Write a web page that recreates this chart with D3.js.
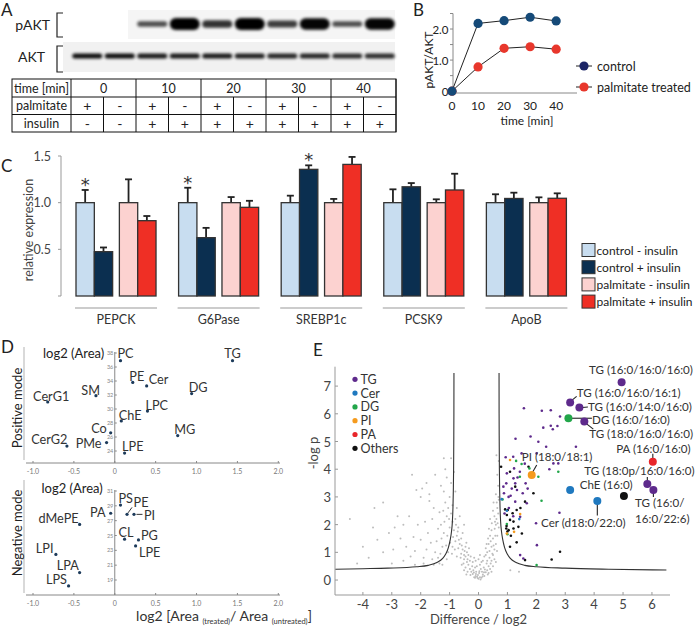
<!DOCTYPE html>
<html><head><meta charset="utf-8">
<script src="https://cdn.jsdelivr.net/npm/d3@7"></script>
<style>
body{margin:0;background:#fff}
svg{display:block}
text{font-family:Lato,"Open Sans",sans-serif;fill:#222}
</style>
</head><body>
<svg id="fig" width="696" height="626"></svg>
<script>
// ================= DATA =================
// Panel A (western blot + table)
const timeGroups = ["0","10","20","30","40"];
const palmitateRow = ["+","-","+","-","+","-","+","-","+","-"];
const insulinRow   = ["-","-","+","+","+","+","+","+","+","+"];
const pAKTBand = [0,0,0.3,1,0.55,1,0.45,0.95,0.3,0.95];
const AKTBand  = [0.95,0.95,0.9,0.9,0.9,0.88,0.85,0.85,0.82,0.82];

// Panel B
const timeMin = [0,10,20,30,40];
const pAktControl   = [0,2.18,2.27,2.38,2.26];
const pAktPalmitate = [0,0.78,1.38,1.43,1.35];
const bTicksY = [0,1.0,2.0];

// Panel C
const genes = ["PEPCK","G6Pase","SREBP1c","PCSK9","ApoB"];
const conditions = ["control - insulin","control + insulin","palmitate - insulin","palmitate + insulin"];
const exprCtrlMinus = [1,1,1,1,1];
const exprCtrlPlus  = [0.475,0.625,1.357,1.17,1.045];
const exprPalMinus  = [1,1,1,1,1];
const exprPalPlus   = [0.807,0.95,1.41,1.136,1.047];
const errCtrlMinus = [0.136,0.16,0.075,0.143,0.09];
const errCtrlPlus  = [0.045,0.105,0.043,0.04,0.062];
const errPalMinus  = [0.25,0.06,0.04,0.036,0.057];
const errPalPlus   = [0.05,0.07,0.08,0.174,0.053];
const starGene = ["PEPCK","G6Pase","SREBP1c"];
const starCond = [0,0,1];

// Panel D
const posLipids = ["PC","TG","PE","Cer","DG","SM","CerG1","LPC","ChE","Co","MG","CerG2","PMe","LPE"];
const posFC     = [0.07,1.44,0.22,0.39,0.94,-0.23,-0.82,0.40,0.08,-0.05,0.77,-0.585,-0.10,0.12];
const posArea   = [36.9,36.9,33.8,33.3,32.2,31.9,31.0,29.7,28.3,26.6,26.2,24.7,25.2,23.7];
const negLipids = ["PS","PA","PE","PI","dMePE","CL","PG","LPE","LPI","LPA","LPS"];
const negFC     = [0.07,-0.05,0.15,0.235,-0.43,0.12,0.29,0.255,-0.72,-0.43,-0.565];
const negArea   = [29.1,28.0,27.85,27.85,26.5,24.5,24.4,23.6,22.45,20.0,18.2];
const posTicksY = [24,26,28,30,32,34,36,38];
const negTicksY = [19,21,23,25,27,29,31];
const dTicksX = [-1.0,-0.5,0,0.5,1.0,1.5,2.0];

// Panel E (volcano)
const eClasses = ["TG","Cer","DG","PI","PA","Others"];
const grayPts = [[0,0.05],[0.05,0.1],[-0.05,0.12],[0.1,0.08],[-0.1,0.15],[0.15,0.2],[-0.15,0.1],[0.2,0.15],[-0.2,0.22],[0.02,0.25],[0.12,0.3],[-0.08,0.3],[0.25,0.28],[-0.25,0.3],[0.3,0.35],[-0.3,0.4],[0.08,0.4],[-0.12,0.45],[0.18,0.45],[-0.22,0.5],[0.35,0.5],[-0.35,0.55],[0.28,0.6],[-0.4,0.65],[0.05,0.55],[-0.02,0.18],[0.22,0.38],[-0.18,0.35],[0.4,0.4],[-0.45,0.45],[0.45,0.7],[-0.5,0.75],[0.1,0.65],[-0.3,0.7],[0.38,0.8],[-0.12,0.08],[0.03,0.32],[-0.06,0.5],[0.32,0.2],[-0.28,0.18],[0.07,0.02],[-0.03,0.07],[0.14,0.13],[-0.09,0.22],[0.19,0.28],[-0.16,0.27],
[-0.5,0.9],[-0.55,1.1],[-0.6,0.95],[-0.65,1.3],[-0.7,1.15],[-0.6,1.5],[-0.75,1.6],[-0.8,1.4],[-0.85,1.8],[-0.7,1.9],[-0.9,2.1],[-1.0,1.9],[-0.95,2.4],[-1.05,2.6],[-0.8,2.2],[-1.1,2.3],[-1.15,2.8],[-0.9,2.7],[-1.2,1.7],[-1.25,1.2],[-1.3,2.0],[-0.45,1.2],[-0.4,1.0],[-0.55,1.7],[-0.65,2.3],[-1.0,3.0],[-1.2,3.2],[-0.95,3.5],[-0.9,1.2],[-1.05,1.0],[-0.75,0.85],[-0.5,2.0],
[0.5,0.9],[0.55,1.1],[0.6,1.3],[0.45,1.2],[0.65,1.6],[0.5,1.5],[0.7,1.9],[0.6,2.0],[0.55,2.3],[0.65,2.6],[0.7,2.9],[0.6,3.1],[0.68,3.4],[0.65,3.8],[0.4,1.6],[0.3,1.0],[0.35,1.3],[0.45,1.8],[0.5,2.5],[0.7,4.3],[0.62,4.5],[0.25,0.9],[0.55,0.75],[0.4,2.2],
[-1.2,4.4],[-0.95,4.4],[-2.3,3.8],[-2.0,3.0],[-1.7,3.1],[-1.35,2.45],[-2.9,1.9],[-2.95,1.1],[-3.65,1.9],[-2.25,1.55],[-1.8,1.1],[-1.9,0.8],[-2.6,0.7],[-3.5,1.45],[-4.45,2.2],[-3.3,2.8],[-2.15,3.25],[-1.95,3.3],[-1.5,3.8],[-1.6,2.2],[-2.4,2.3],[-1.45,1.4],[-1.6,0.75],[-2.1,2.0],[-3.0,0.6],[-4.0,1.2],[-1.35,0.6],[-1.1,0.75],[-2.7,1.5],[-3.8,0.8],[-1.4,1.85],[1.1,0.35],[1.4,0.3],
[-0.35,0.9],[-0.42,1.35],[-0.38,0.75],[-0.48,1.05],[-0.58,1.25],[-0.62,0.8],[-0.68,1.45],[-0.72,1.75],[-0.78,2.0],[-0.82,1.1],[-0.88,1.55],[-0.92,0.95],[-0.98,1.35],[-1.02,2.2],[-1.08,1.6],[-1.12,1.25],[-1.18,2.1],[-1.22,2.5],[-1.28,1.5],[-1.32,0.95],[-0.52,0.6],[-0.58,0.55],[-0.45,0.85],[-0.33,1.15],[-0.27,0.85],[-0.2,0.65],[-0.15,0.8],[-0.1,0.7],[0.0,0.75],[0.05,0.9],[0.15,0.7],[0.2,0.85],[0.25,1.15],[0.3,0.7],[0.33,1.5],[0.38,1.05],[0.42,1.4],[0.48,0.95],[0.52,1.25],[0.56,1.85],[0.58,1.6],[0.62,2.2],[0.64,1.05],[0.66,2.05],[0.68,2.4],[0.69,3.0],[0.63,2.8],[0.57,2.1],[0.46,2.05],[0.52,2.8],[0.36,1.85],[0.28,1.3],[0.42,0.6],[0.6,0.65],[0.35,0.25],[-0.38,0.3],[-0.42,0.2],[0.45,0.3],[-0.5,0.35],[0.5,0.5],
[-1.5,1.0],[-1.65,1.35],[-1.75,1.7],[-1.85,2.1],[-2.0,1.45],[-2.2,1.05],[-2.35,0.85],[-2.5,1.2],[-2.8,2.3],[-3.1,1.7],[-3.3,1.0],[-3.6,2.6],[-1.55,2.6],[-1.7,2.85],[-1.3,3.4],[-1.1,3.7],[-0.85,3.9],[-1.4,0.8],[-1.25,0.55],[-1.55,0.55],[-1.9,0.6],[-2.2,0.55],[-4.2,0.6],[-2.6,2.0],[-1.8,3.5],[-0.8,3.2],[-0.75,2.6],[-1.15,4.0]];
const tgPts = [[1.57,6.2],[2.19,6.11],[2.5,6.13],[2.82,5.9],[2.24,5.5],[2.5,5.57],[2.57,5.44],[2.73,5.56],[1.8,5.18],[1.28,5.1],[2.07,4.99],[2.34,4.81],[3.37,4.81],[0.94,4.43],[1.2,4.45],[1.49,4.57],[2.01,4.57],[2.59,4.21],[2.76,4.21],[1.23,4.03],[1.43,3.91],[0.98,3.85],[1.63,3.49],[0.96,3.49],[1.21,3.67],[1.33,3.25],[1.53,3.13],[1.04,3.0],[1.67,2.77],[1.27,2.83],[1.44,2.28],[2.8,2.43],[1.99,2.05],[2.02,1.26],[1.44,0.9],[1.55,0.78],[0.86,3.37],[0.88,3.13],[1.27,3.49],[1.11,3.04],[1.6,4.2],[1.15,3.3],[1.35,3.7],[2.45,4.0],[1.05,2.6],[0.9,2.4],[1.7,3.3],[1.2,2.3]];
const othersPts = [[0.78,4.09],[1.09,3.91],[1.73,4.09],[1.27,3.37],[1.61,2.83],[0.92,2.55],[1.01,2.53],[1.18,2.41],[1.32,2.53],[0.98,2.35],[1.09,2.17],[1.21,2.11],[0.96,1.86],[1.04,1.8],[1.21,1.86],[1.38,1.92],[1.5,1.68],[1.32,1.36],[1.09,1.2],[2.82,1.02],[2.53,0.74],[1.61,0.72],[1.9,3.13],[1.0,1.75],[0.97,1.95],[1.12,1.6],[1.45,2.6]];
const dgPts = [[1.49,4.19],[1.76,4.03],[2.07,3.73],[2.76,3.91],[0.83,2.91],[2.18,2.86],[1.43,3.73],[0.98,2.02],[2.01,0.54],[1.3,4.3],[1.0,1.65]];
const piPts = [[1.09,4.33],[1.44,2.38],[1.23,1.74],[0.98,1.68]];
const cerPts = [[0.98,2.5],[1.41,2.2],[0.8,2.92]];
const hiNames = ["TG (16:0/16:0/16:0)","TG (16:0/16:0/16:1)","TG (16:0/14:0/16:0)","DG (16:0/16:0)","TG (18:0/16:0/16:0)","PA (16:0/16:0)","TG (18:0p/16:0/16:0)","TG (16:0/\n16:0/22:6)","ChE (16:0)","Cer (d18:0/22:0)","PI (18:0/18:1)",""];
const hiClass = ["TG","TG","TG","DG","TG","PA","TG","TG","Others","Cer","PI","Cer"];
const hiDiff  = [4.95,3.17,3.49,3.11,3.66,6.03,5.84,6.05,5.03,4.11,1.84,3.17];
const hiLogP  = [7.14,6.41,6.23,5.84,5.72,4.27,3.47,3.25,3.03,2.85,3.79,3.25];
// significance threshold curves
const curveRight = [[0.71,7.47],[0.712,6],[0.716,5],[0.722,4],[0.732,3.2],[0.745,2.6],[0.765,2.1],[0.795,1.75],[0.84,1.45],[0.9,1.18],[1.0,0.93],[1.1,0.78],[1.3,0.63],[1.6,0.53],[2.0,0.48],[3.0,0.43],[4.5,0.39],[6.5,0.36]];
const curveLeft  = [[-0.85,7.47],[-0.852,6],[-0.856,5],[-0.862,4],[-0.872,3.2],[-0.885,2.6],[-0.905,2.1],[-0.935,1.75],[-0.98,1.45],[-1.04,1.18],[-1.14,0.93],[-1.24,0.78],[-1.44,0.63],[-1.74,0.53],[-2.14,0.48],[-3.14,0.43],[-4.0,0.41],[-4.95,0.39]];
const eTicksX = [-4,-3,-2,-1,0,1,2,3,4,5,6];
const eTicksY = [0,1,2,3,4,5,6,7];

// ================= DRAW =================
const svg = d3.select("#fig");
const defs = svg.append("defs");
defs.append("filter").attr("id","blur").attr("x","-30%").attr("y","-100%").attr("width","160%").attr("height","300%")
  .append("feGaussianBlur").attr("stdDeviation",1.5);

function label(g, x, y, s, size, anchor, extra) {
  const t = g.append("text").attr("x", x).attr("y", y).attr("font-size", size)
    .attr("text-anchor", anchor || "start").attr("dominant-baseline", "central").text(s);
  if (extra) extra(t);
  return t;
}

// Panel letters
[["A",1,9],["B",413,9],["C",1,165],["D",1,346],["E",313,349]].forEach(([s,x,y]) =>
  label(svg, x, y, s, 17, "start"));

// ---------- Panel A ----------
const gA = svg.append("g");
const lane = d3.scaleBand().domain(d3.range(10)).range([71, 396]);
const group = d3.scaleBand().domain(timeGroups).range([71, 396]);
gA.append("rect").attr("x",63).attr("y",42).attr("width",332).attr("height",30).attr("fill","#f1f1f1");
gA.append("rect").attr("x",128).attr("y",10).attr("width",267).attr("height",29).attr("fill","#f5f5f5");
gA.selectAll(".pb").data(pAKTBand).join("rect")
  .attr("x", (d,i) => lane(i) + lane.bandwidth()/2 - 15).attr("width", 30)
  .attr("y", d => 24 - (2.5 + 9.5*d)/2).attr("height", d => 2.5 + 9.5*d)
  .attr("rx", d => (2.5 + 9.5*d)/2)
  .attr("fill", "#050505").attr("opacity", d => d > 0 ? 0.55 + 0.45*d : 0)
  .attr("filter","url(#blur)");
gA.selectAll(".ab").data(AKTBand).join("rect")
  .attr("x", (d,i) => lane(i) + lane.bandwidth()/2 - 15).attr("width", 30)
  .attr("y", 53.5).attr("height", 5).attr("rx", 2.5)
  .attr("fill", "#050505").attr("opacity", d => d)
  .attr("filter","url(#blur)");
label(gA, 50, 24, "pAKT", 14, "end");
label(gA, 45, 56, "AKT", 14, "end");
[[13,37],[46,72]].forEach(([y0,y1]) => {
  gA.append("path").attr("d", `M63,${y0}H57V${y1}H63`).attr("fill","none").attr("stroke","#222").attr("stroke-width",1.2);
});
// table
const rowsY = [79, 97, 114.5, 132];
const tbl = gA.append("g").attr("stroke","#111").attr("stroke-width",1).attr("fill","none");
tbl.append("rect").attr("x",12).attr("y",rowsY[0]).attr("width",384).attr("height",rowsY[3]-rowsY[0]);
rowsY.slice(1,3).forEach(y => tbl.append("line").attr("x1",12).attr("x2",396).attr("y1",y).attr("y2",y));
tbl.append("line").attr("x1",71).attr("x2",71).attr("y1",rowsY[0]).attr("y2",rowsY[3]);
timeGroups.forEach(t => tbl.append("line").attr("x1",group(t)+group.bandwidth()).attr("x2",group(t)+group.bandwidth()).attr("y1",rowsY[0]).attr("y2",rowsY[3]));
d3.range(10).filter(i => i%2===0).forEach(i => tbl.append("line").attr("x1",lane(i)+lane.bandwidth()).attr("x2",lane(i)+lane.bandwidth()).attr("y1",rowsY[1]).attr("y2",rowsY[3]));
label(gA, 41.5, (rowsY[0]+rowsY[1])/2, "time [min]", 12.5, "middle");
label(gA, 41.5, (rowsY[1]+rowsY[2])/2, "palmitate", 12.5, "middle");
label(gA, 41.5, (rowsY[2]+rowsY[3])/2, "insulin", 12.5, "middle");
timeGroups.forEach(t => label(gA, group(t)+group.bandwidth()/2, (rowsY[0]+rowsY[1])/2, t, 12.5, "middle"));
palmitateRow.forEach((s,i) => label(gA, lane(i)+lane.bandwidth()/2, (rowsY[1]+rowsY[2])/2, s, 14, "middle"));
insulinRow.forEach((s,i) => label(gA, lane(i)+lane.bandwidth()/2, (rowsY[2]+rowsY[3])/2, s, 14, "middle"));

// ---------- Panel B ----------
const gB = svg.append("g");
const xB = d3.scaleLinear().domain([0,48]).range([452,577]);
const yB = d3.scaleLinear().domain([-0.06,2.5]).range([93,13.5]);
gB.append("line").attr("x1",453).attr("x2",453).attr("y1",yB(2.5)).attr("y2",93).attr("stroke","#888");
gB.append("line").attr("x1",453).attr("x2",577).attr("y1",93).attr("y2",93).attr("stroke","#888");
[0,0.5,1,1.5,2,2.5].forEach(v => gB.append("line").attr("x1",450).attr("x2",453).attr("y1",yB(v)).attr("y2",yB(v)).attr("stroke","#888"));
bTicksY.forEach(v => label(gB, 448.5, yB(v), v===0 ? "0" : v.toFixed(1), 11.5, "end"));
timeMin.forEach(v => label(gB, xB(v), 105.5, String(v), 12, "middle"));
label(gB, 527, 120.5, "time [min]", 12, "middle");
label(gB, 0, 0, "pAKT/AKT", 12, "middle", t => t.attr("transform","translate(428,60) rotate(-90)"));
const lineB = d3.line().x((d,i) => xB(timeMin[i])).y(d => yB(d));
[[pAktPalmitate,"#e8372c"],[pAktControl,"#154a78"]].forEach(([arr,col]) => {
  gB.append("path").attr("d", lineB(arr)).attr("fill","none").attr("stroke","#222").attr("stroke-width",1);
  gB.selectAll(null).data(arr).join("circle").attr("cx",(d,i)=>xB(timeMin[i])).attr("cy",d=>yB(d)).attr("r",4.6).attr("fill",col);
});
[["control","#1c2566",66],["palmitate treated","#e8372c",87]].forEach(([s,c,y]) => {
  gB.append("line").attr("x1",576).attr("x2",592).attr("y1",y).attr("y2",y).attr("stroke","#222");
  gB.append("circle").attr("cx",584).attr("cy",y).attr("r",4.6).attr("fill",c);
  label(gB, 597, y, s, 12.5, "start");
});

// ---------- Panel C ----------
const gC = svg.append("g");
const yC = d3.scaleLinear().domain([0,1.5]).range([296,156]);
const xC = d3.scaleBand().domain(genes).range([76, 566.4]).paddingInner(0.22).paddingOuter(0);
const pairC = d3.scaleBand().domain(["control","palmitate"]).range([0, xC.bandwidth()]).paddingInner(0.155);
const condColors = ["#c8ddf0","#0b2f50","#fcd2d0","#ef2f25"];
const exprAll = [exprCtrlMinus, exprCtrlPlus, exprPalMinus, exprPalPlus];
const errAll  = [errCtrlMinus, errCtrlPlus, errPalMinus, errPalPlus];
const barW = pairC.bandwidth()/2;
const barX = (g, c) => xC(g) + pairC(c < 2 ? "control" : "palmitate") + (c % 2) * barW;
gC.append("line").attr("x1",61).attr("x2",61).attr("y1",yC(0)).attr("y2",yC(1.5)).attr("stroke","#999");
[0,0.5,1,1.5].forEach(v => gC.append("line").attr("x1",58).attr("x2",61).attr("y1",yC(v)).attr("y2",yC(v)).attr("stroke","#999"));
[0.5,1.0,1.5].forEach(v => label(gC, 51, yC(v), v.toFixed(1), 12.5, "end", t => t.style("fill","#444")));
label(gC, 0, 0, "relative expression", 12.5, "middle", t => t.attr("transform","translate(28,230) rotate(-90)").style("fill","#444"));
genes.forEach((g, gi) => {
  exprAll.forEach((arr, c) => {
    const x = barX(g, c), v = arr[gi], e = errAll[c][gi];
    gC.append("line").attr("x1", x+barW/2).attr("x2", x+barW/2).attr("y1", yC(v)).attr("y2", yC(v+e)).attr("stroke","#222").attr("stroke-width",1.8);
    gC.append("line").attr("x1", x+barW/2-3.5).attr("x2", x+barW/2+3.5).attr("y1", yC(v+e)).attr("y2", yC(v+e)).attr("stroke","#222").attr("stroke-width",1.8);
    gC.append("rect").attr("x", x).attr("width", barW).attr("y", yC(v)).attr("height", yC(0)-yC(v))
      .attr("fill", condColors[c]).attr("stroke","#333").attr("stroke-width",1.3);
  });
  gC.append("line").attr("x1", xC(g)-1).attr("x2", xC(g)+xC.bandwidth()+1).attr("y1",308).attr("y2",308).attr("stroke","#999");
  label(gC, xC(g)+xC.bandwidth()/2, 319, g, 12.5, "middle", t => t.style("fill","#333"));
});
starGene.forEach((g, i) => {
  const c = starCond[i], gi = genes.indexOf(g);
  const top = yC(exprAll[c][gi] + errAll[c][gi]);
  gC.append("text").attr("x", barX(g,c)+barW/2).attr("y", top+1).attr("text-anchor","middle")
    .attr("font-size",18).style("font-family","'DejaVu Sans',sans-serif").style("fill","#333").text("*");
});
conditions.forEach((s, i) => {
  const y = 250 + i*17.2;
  gC.append("rect").attr("x",582).attr("y",y-6.5).attr("width",13).attr("height",13).attr("fill",condColors[i]).attr("stroke","#333").attr("stroke-width",1);
  label(gC, 596.5, y, s, 12, "start");
});

// ---------- Panel D ----------
const gD = svg.append("g");
const xD = d3.scaleLinear().domain([-1,2]).range([33,278.3]);
const yDp = d3.scaleLinear().domain([24,38]).range([451,353]);
const yDn = d3.scaleLinear().domain([19,31]).range([580,491]);
function dPanel(yS, axisY, yTop, ticksY, names, fc, area, offs) {
  gD.append("line").attr("x1",26).attr("x2",280).attr("y1",axisY).attr("y2",axisY).attr("stroke","#888");
  gD.append("line").attr("x1",xD(0)).attr("x2",xD(0)).attr("y1",axisY).attr("y2",yTop).attr("stroke","#888");
  dTicksX.forEach(v => {
    gD.append("line").attr("x1",xD(v)).attr("x2",xD(v)).attr("y1",axisY).attr("y2",axisY-2).attr("stroke","#888");
    label(gD, xD(v), axisY+8, v===0 ? "0" : v.toFixed(1), 7, "middle", t => t.style("fill","#777"));
  });
  ticksY.forEach(v => {
    gD.append("line").attr("x1",xD(0)).attr("x2",xD(0)+2).attr("y1",yS(v)).attr("y2",yS(v)).attr("stroke","#888");
    label(gD, xD(0)-1.5, yS(v), String(v), 5.5, "end", t => t.style("fill","#888"));
  });
  names.forEach((n, i) => {
    const x = xD(fc[i]), y = yS(area[i]);
    gD.append("circle").attr("cx",x).attr("cy",y).attr("r",1.6).attr("fill","#1c3a5a");
    const o = offs[n];
    label(gD, x+o[0], y+o[1], n, 12.7, o[2], t => t.style("fill","#333"));
    if (o[3]) gD.append("line").attr("x1",x+o[3][0]).attr("y1",y+o[3][1]).attr("x2",x+o[3][2]).attr("y2",y+o[3][3]).attr("stroke","#333").attr("stroke-width",1);
  });
}
const posOffs = {PC:[-3,-8,"start"],TG:[0,-8,"middle"],PE:[4,-6,"middle"],Cer:[2,-6.5,"start"],DG:[-3,-7,"start"],SM:[4,-6,"end"],CerG1:[3.5,-6,"middle"],LPC:[-2,-6,"start"],ChE:[-2.5,-6,"start"],Co:[-4,-4.5,"end"],MG:[-3.5,-7,"start"],CerG2:[0.5,-7,"end"],PMe:[-5,0.5,"end"],LPE:[-2.5,-7,"start"]};
const negOffs = {PS:[-2,-7,"start"],PA:[-5,-1.6,"end"],PE:[6.5,-12.5,"start",[1,-1.5,5,-7]],PI:[10,1,"start",[2.5,0,8.5,0]],dMePE:[-1,-6,"end"],CL:[-6,-7.6,"start"],PG:[2.5,-5,"start"],LPE:[3.3,5.7,"start"],LPI:[-2.4,-6,"end"],LPA:[-0.7,-7.5,"end"],LPS:[-1.6,-6.5,"end"]};
dPanel(yDp, 463, 352, posTicksY, posLipids, posFC, posArea, posOffs);
dPanel(yDn, 595, 490, negTicksY, negLipids, negFC, negArea, negOffs);
gD.append("line").attr("x1",24).attr("x2",24).attr("y1",347).attr("y2",460).attr("stroke","#ccc").attr("stroke-width",1.5);
gD.append("line").attr("x1",24).attr("x2",24).attr("y1",480).attr("y2",593).attr("stroke","#ccc").attr("stroke-width",1.5);
label(gD, 43, 353, "log2 (Area)", 13, "start");
label(gD, 41.5, 488, "log2 (Area)", 13, "start");
label(gD, 0, 0, "Positive mode", 13, "middle", t => t.attr("transform","translate(17,408) rotate(-90)"));
label(gD, 0, 0, "Negative mode", 13, "middle", t => t.attr("transform","translate(17,533) rotate(-90)"));
const xt = gD.append("text").attr("x",224).attr("y",621).attr("text-anchor","middle").attr("font-size",14).style("fill","#333");
xt.append("tspan").text("log2 [Area ");
xt.append("tspan").attr("font-size",7.5).attr("dy",3).text("(treated)");
xt.append("tspan").attr("dy",-3).text("/ Area ");
xt.append("tspan").attr("font-size",7.5).attr("dy",3).text("(untreated)");
xt.append("tspan").attr("dy",-3).text("]");

// ---------- Panel E ----------
const gE = svg.append("g");
const xE = d3.scaleLinear().domain([-5,6.5]).range([334,666.4]);
const yE = d3.scaleLinear().domain([-0.54,7.7]).range([595,366.7]);
gE.append("line").attr("x1",335).attr("x2",335).attr("y1",366.7).attr("y2",595).attr("stroke","#999");
gE.append("line").attr("x1",335).attr("x2",670).attr("y1",595).attr("y2",595).attr("stroke","#999");
eTicksY.forEach(v => {
  gE.append("line").attr("x1",335).attr("x2",338).attr("y1",yE(v)).attr("y2",yE(v)).attr("stroke","#999");
  label(gE, 331, yE(v), String(v), 13, "end", t => t.style("fill","#444"));
});
eTicksX.forEach(v => {
  gE.append("line").attr("x1",xE(v)).attr("x2",xE(v)).attr("y1",595).attr("y2",592).attr("stroke","#999");
  label(gE, xE(v), 604, String(v), 13, "middle", t => t.style("fill","#444"));
});
label(gE, xE(0), 619, "Difference / log2", 13, "middle", t => t.style("fill","#444"));
label(gE, 0, 0, "-log p", 13, "middle", t => t.attr("transform","translate(313,453) rotate(-90)").style("fill","#444"));
const eCol = {TG:"#5e2a8c",Cer:"#1f79bf",DG:"#22a64a",PI:"#f59b1e",PA:"#e8262a",Others:"#111"};
gE.selectAll(".g").data(grayPts).join("circle").attr("cx",d=>xE(d[0])).attr("cy",d=>yE(d[1])).attr("r",1).attr("fill","#bdbdbd");
const curveGen = d3.line().x(d=>xE(d[0])).y(d=>yE(d[1])).curve(d3.curveMonotoneX);
gE.append("path").attr("d", curveGen(curveRight)).attr("fill","none").attr("stroke","#333").attr("stroke-width",1.1);
gE.append("path").attr("d", curveGen(curveLeft.slice().reverse())).attr("fill","none").attr("stroke","#333").attr("stroke-width",1.1);
[[othersPts,"Others"],[tgPts,"TG"],[dgPts,"DG"],[piPts,"PI"],[cerPts,"Cer"]].forEach(([arr,c]) =>
  gE.selectAll(null).data(arr).join("circle").attr("cx",d=>xE(d[0])).attr("cy",d=>yE(d[1])).attr("r",1.3).attr("fill",eCol[c]));
// highlighted labels layout: [dx, dy, anchor, leader]
const hiLayout = [
  [71.3,-12.3,"end",null],
  [6.7,-9.5,"start",[1,-1.5,6.5,-6]],
  [8.7,-1,"start",[3,0,8.5,-0.5]],
  [23.7,1,"start",[3,0,23.5,0]],
  [108.7,11.6,"end",[2,2,9,7.5]],
  [0.6,-13.4,"middle",[0,-3,0,-8]],
  [47.2,-13.3,"end",[0,-3,0,-7]],
  [-18.3,12.7,"start",[0,3,0,7]],
  [-17.7,-12,"middle",null],
  [-14,21.3,"middle",[0,3,0,14.5]],
  [-10,-18.3,"start",[1,-3,5,-10]],
  null];
hiNames.forEach((n, i) => {
  const x = xE(hiDiff[i]), y = yE(hiLogP[i]);
  const L = hiLayout[i];
  if (L && L[3]) gE.append("line").attr("x1",x+L[3][0]).attr("y1",y+L[3][1]).attr("x2",x+L[3][2]).attr("y2",y+L[3][3]).attr("stroke","#222").attr("stroke-width",1.1);
  gE.append("circle").attr("cx",x).attr("cy",y).attr("r",4).attr("fill",eCol[hiClass[i]]);
  if (L) n.split("\n").forEach((line, k) => label(gE, x+L[0], y+L[1]+k*16.3, line, 11.6, L[2], t => t.style("fill","#333")));
});
eClasses.forEach((c, i) => {
  const y = 379.3 + i*13.8;
  gE.append("circle").attr("cx",355).attr("cy",y).attr("r",2.6).attr("fill",eCol[c]);
  label(gE, 360.5, y, c, 12.5, "start", t => t.style("fill","#333"));
});
</script>
</body></html>
